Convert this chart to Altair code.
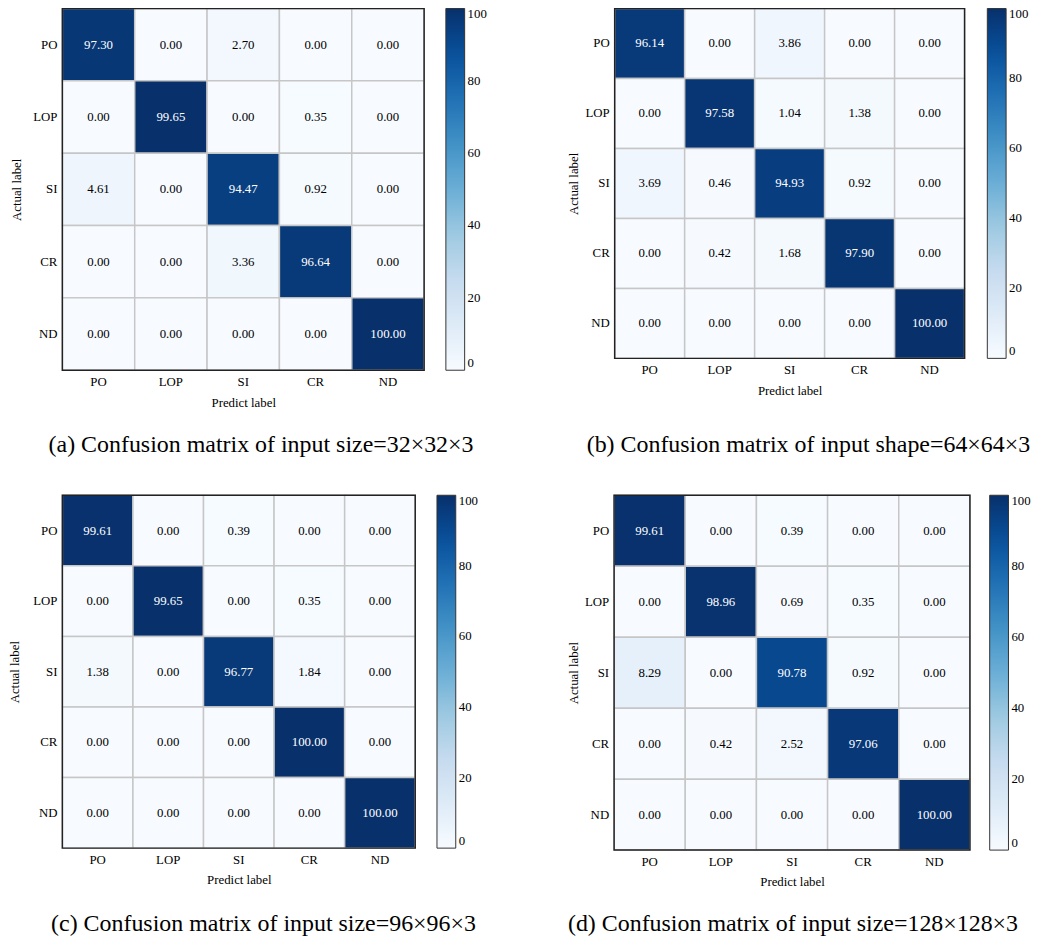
import altair as alt
import pandas as pd

classes = ["PO", "LOP", "SI", "CR", "ND"]

matrix_a = [[97.30, 0.00, 2.70, 0.00, 0.00],
            [0.00, 99.65, 0.00, 0.35, 0.00],
            [4.61, 0.00, 94.47, 0.92, 0.00],
            [0.00, 0.00, 3.36, 96.64, 0.00],
            [0.00, 0.00, 0.00, 0.00, 100.00]]
matrix_b = [[96.14, 0.00, 3.86, 0.00, 0.00],
            [0.00, 97.58, 1.04, 1.38, 0.00],
            [3.69, 0.46, 94.93, 0.92, 0.00],
            [0.00, 0.42, 1.68, 97.90, 0.00],
            [0.00, 0.00, 0.00, 0.00, 100.00]]
matrix_c = [[99.61, 0.00, 0.39, 0.00, 0.00],
            [0.00, 99.65, 0.00, 0.35, 0.00],
            [1.38, 0.00, 96.77, 1.84, 0.00],
            [0.00, 0.00, 0.00, 100.00, 0.00],
            [0.00, 0.00, 0.00, 0.00, 100.00]]
matrix_d = [[99.61, 0.00, 0.39, 0.00, 0.00],
            [0.00, 98.96, 0.69, 0.35, 0.00],
            [8.29, 0.00, 90.78, 0.92, 0.00],
            [0.00, 0.42, 2.52, 97.06, 0.00],
            [0.00, 0.00, 0.00, 0.00, 100.00]]

captions = [
    "(a) Confusion matrix of input size=32×32×3",
    "(b) Confusion matrix of input shape=64×64×3",
    "(c) Confusion matrix of input size=96×96×3",
    "(d) Confusion matrix of input size=128×128×3",
]
colorbar_ticks = [0, 20, 40, 60, 80, 100]
blues = ["#f7fbff", "#deebf7", "#c6dbef", "#9ecae1", "#6baed6",
         "#4292c6", "#2171b5", "#08519c", "#08306b"]

FONT = "Liberation Serif"


def panel(matrix, caption, w, h, ytitle_pad, legend_offset, title_offset, title_dx):
    rows = []
    for i, a in enumerate(classes):
        for j, p in enumerate(classes):
            v = matrix[i][j]
            rows.append({"actual": a, "predicted": p, "value": v,
                         "label": f"{v:.2f}"})
    df = pd.DataFrame(rows)
    x = alt.X("predicted:N", sort=classes, title="Predict label",
              axis=alt.Axis(labelAngle=0, ticks=False, domain=False,
                            labelFont=FONT, labelFontSize=13, labelColor="black",
                            labelPadding=5.2, titleFont=FONT, titleFontSize=13,
                            titleFontWeight="normal", titleColor="black",
                            titlePadding=8))
    y = alt.Y("actual:N", sort=classes, title="Actual label",
              axis=alt.Axis(ticks=False, domain=False,
                            labelFont=FONT, labelFontSize=13, labelColor="black",
                            labelPadding=5.5, titleFont=FONT, titleFontSize=13,
                            titleFontWeight="normal", titleColor="black",
                            titlePadding=ytitle_pad))
    base = alt.Chart(df)
    rect = base.mark_rect(stroke="#c6c6c6", strokeWidth=1.5).encode(
        x=x, y=y,
        color=alt.Color("value:Q",
                        scale=alt.Scale(domain=[0, 100], range=blues,
                                        interpolate="rgb"),
                        legend=alt.Legend(title=None, orient="right",
                                          direction="vertical",
                                          offset=legend_offset,
                                          gradientLength=h,
                                          gradientThickness=19,
                                          gradientStrokeColor="#333333",
                                          gradientStrokeWidth=1,
                                          labelFont=FONT, labelFontSize=13,
                                          labelColor="black", labelOffset=3,
                                          values=colorbar_ticks, padding=0)),
    )
    text = base.mark_text(font=FONT, fontSize=13).encode(
        x=x, y=y, text="label:N",
        color=alt.condition(alt.datum.value > 50, alt.value("white"),
                            alt.value("black")),
    )
    border = alt.Chart(alt.Data(values=[{"k": 1}])).mark_rect(
        filled=False, stroke="#222222", strokeWidth=1.5
    ).encode(x=alt.value(0), x2=alt.value("width"),
             y=alt.value(0), y2=alt.value("height"))
    return alt.layer(rect, text, border).properties(
        width=w, height=h,
        title=alt.TitleParams(text=caption, orient="bottom", anchor="middle",
                              frame="group", fontSize=24.2, font=FONT,
                              fontWeight="normal", color="black",
                              offset=title_offset, dx=title_dx),
    )


pa = panel(matrix_a, captions[0], 366, 366, 9.5, 22, 24.3, 18)
pb = panel(matrix_b, captions[1], 354, 354, 4.2, 23, 36.3, 19)
pc = panel(matrix_c, captions[2], 357, 357, 11, 22, 26, 25)
pd_ = panel(matrix_d, captions[3], 360, 359, 4.2, 20, 24, 1)

row1 = alt.hconcat(pa, pb, spacing=80.8).resolve_scale(color="independent").resolve_legend(color="independent")
row2 = alt.hconcat(pc, pd_, spacing=89.2).resolve_scale(color="independent").resolve_legend(color="independent")

chart = alt.vconcat(row1, row2, spacing=37.5).resolve_scale(
    color="independent").resolve_legend(color="independent").properties(
    padding={"top": -6, "left": 0, "right": 0, "bottom": 0}).configure_view(strokeWidth=0)

chart.save("out.html", embed_options={"renderer": "svg", "actions": False})
